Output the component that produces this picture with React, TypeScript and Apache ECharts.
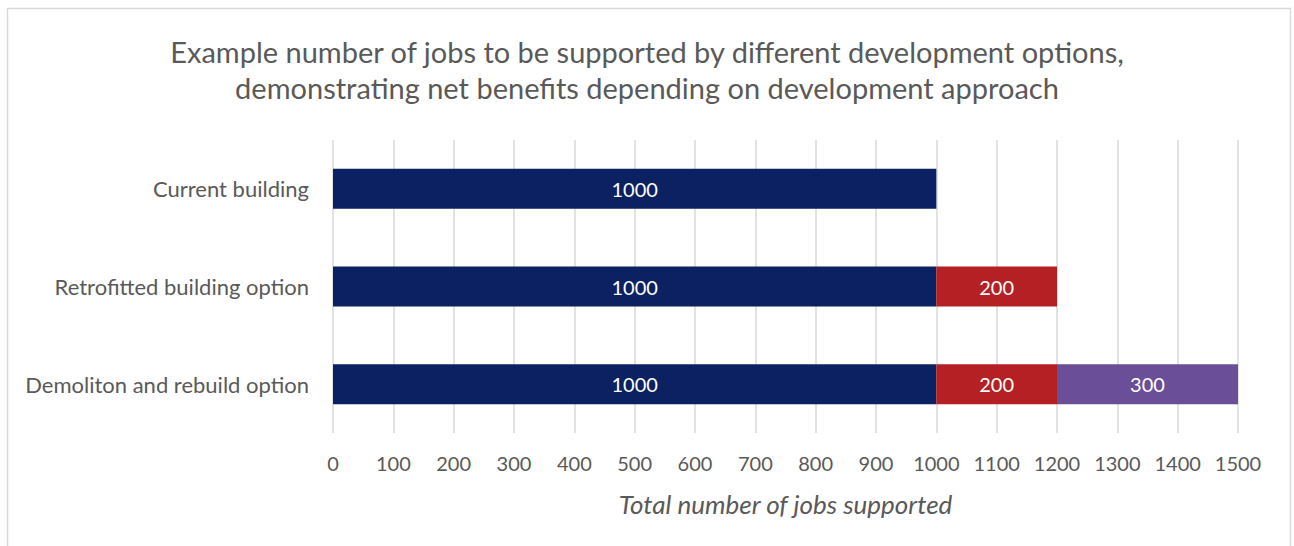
import React, { useEffect, useRef } from "react";
import * as echarts from "echarts";

const categories = ["Current building", "Retrofitted building option", "Demoliton and rebuild option"];
const baseJobs = [1000, 1000, 1000];
const retrofitJobs = [null, 200, 200];
const rebuildJobs = [null, null, 300];
const seriesNames = ["Current", "Retrofit", "Rebuild"];
const titleText = "Example number of jobs to be supported by different development options,\ndemonstrating net benefits depending on development approach";
const axisTitle = "Total number of jobs supported";

const FONT = "Lato, 'Open Sans', sans-serif";
const colors = ["#0B2162", "#B42024", "#6A4E98"];

export default function App() {
  const ref = useRef<HTMLDivElement>(null);
  useEffect(() => {
    document.body.style.margin = "0";
    const chart = echarts.init(ref.current!, null, { renderer: "svg" });
    const label = {
      show: true,
      position: "inside",
      color: "#ffffff",
      fontFamily: FONT,
      fontSize: 20,
      fontWeight: "normal",
      formatter: (p: any) => String(p.value),
    };
    const mk = (name: string, data: (number | null)[], color: string) => ({
      name,
      type: "bar",
      stack: "total",
      data,
      barWidth: 40,
      itemStyle: { color },
      label,
    });
    chart.setOption({
      animation: false,
      backgroundColor: "#ffffff",
      title: {
        text: titleText,
        left: "center",
        top: 28,
        textStyle: {
          fontFamily: FONT,
          fontSize: 29,
          fontWeight: "normal",
          color: "#595959",
          lineHeight: 36,
        },
      },
      graphic: [
        {
          type: "rect",
          shape: { x: 7.5, y: 8.5, width: 1283, height: 620 },
          style: { fill: "none", stroke: "#d9d9d9", lineWidth: 1.5 },
          silent: true,
        },
      ],
      grid: { left: 333, right: 56, top: 140, bottom: 113, containLabel: false },
      xAxis: {
        type: "value",
        min: 0,
        max: 1500,
        interval: 100,
        axisLine: { show: false },
        axisTick: { show: false },
        splitLine: { show: true, lineStyle: { color: "#d9d9d9", width: 1.5 } },
        axisLabel: {
          color: "#595959",
          fontFamily: FONT,
          fontSize: 20,
          margin: 20,
          formatter: (v: number) => String(v),
        },
        name: axisTitle,
        nameLocation: "middle",
        nameGap: 58,
        nameTextStyle: {
          color: "#595959",
          fontFamily: FONT,
          fontSize: 26,
          fontStyle: "italic",
        },
      },
      yAxis: {
        type: "category",
        data: categories,
        inverse: true,
        axisLine: { show: false },
        axisTick: { show: false },
        axisLabel: {
          color: "#595959",
          fontFamily: FONT,
          fontSize: 22,
          margin: 24,
        },
      },
      series: [
        mk(seriesNames[0], baseJobs, colors[0]),
        mk(seriesNames[1], retrofitJobs, colors[1]),
        mk(seriesNames[2], rebuildJobs, colors[2]),
      ],
    });
    return () => chart.dispose();
  }, []);
  return <div ref={ref} style={{ width: 1294, height: 546 }} />;
}
